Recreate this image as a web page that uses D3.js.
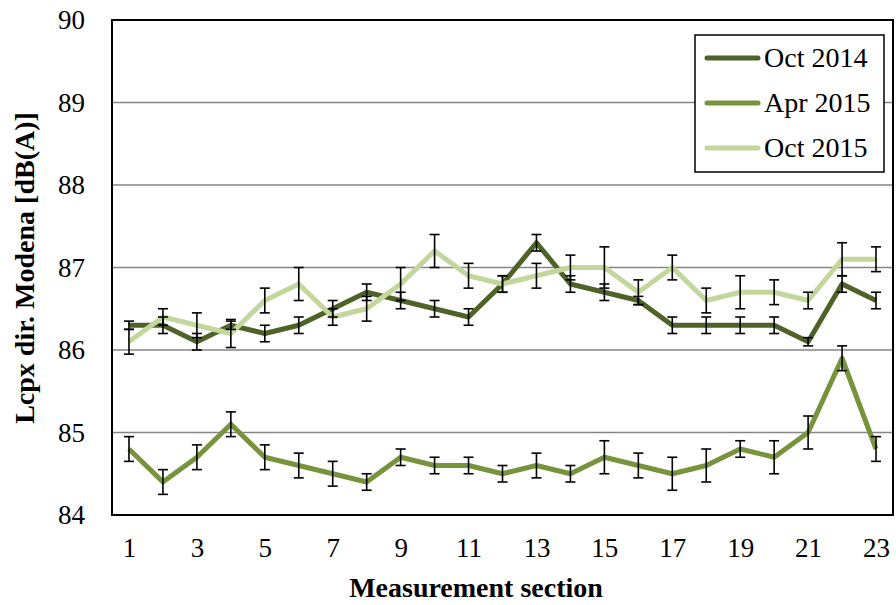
<!DOCTYPE html>
<html>
<head>
<meta charset="utf-8">
<script src="https://cdn.jsdelivr.net/npm/d3@7"></script>
<style>
	body { margin: 0; background: #fff; }
	svg text { font-family: "Liberation Serif", "Times New Roman", serif; }
</style>
</head>
<body>
<svg id="chart" width="896" height="605"></svg>
<script>
const sections = d3.range(1, 24);
const seriesNames = ["Oct 2014", "Apr 2015", "Oct 2015"];
const colors = ["#4F6228", "#77933C", "#C3D69B"];

const oct2014 = [86.3, 86.3, 86.1, 86.3, 86.2, 86.3, 86.5, 86.7, 86.6, 86.5, 86.4, 86.8, 87.3, 86.8, 86.7, 86.6, 86.3, 86.3, 86.3, 86.3, 86.1, 86.8, 86.6];
const oct2014Err = [0.05, 0.1, 0.1, 0.05, 0.1, 0.1, 0.1, 0.1, 0.1, 0.1, 0.1, 0.1, 0.1, 0.1, 0.1, 0.05, 0.1, 0.1, 0.1, 0.1, 0.05, 0.1, 0.1];
const apr2015 = [84.8, 84.4, 84.7, 85.1, 84.7, 84.6, 84.5, 84.4, 84.7, 84.6, 84.6, 84.5, 84.6, 84.5, 84.7, 84.6, 84.5, 84.6, 84.8, 84.7, 85.0, 85.9, 84.8];
const apr2015Err = [0.15, 0.15, 0.15, 0.15, 0.15, 0.15, 0.15, 0.1, 0.1, 0.1, 0.1, 0.1, 0.15, 0.1, 0.2, 0.15, 0.2, 0.2, 0.1, 0.2, 0.2, 0.15, 0.15];
const oct2015 = [86.1, 86.4, 86.3, 86.2, 86.6, 86.8, 86.4, 86.5, 86.8, 87.2, 86.9, 86.8, 86.9, 87.0, 87.0, 86.7, 87.0, 86.6, 86.7, 86.7, 86.6, 87.1, 87.1];
const oct2015Err = [0.15, 0.1, 0.15, 0.17, 0.15, 0.2, 0.1, 0.15, 0.2, 0.2, 0.15, 0.1, 0.15, 0.15, 0.25, 0.15, 0.15, 0.15, 0.2, 0.15, 0.1, 0.2, 0.15];
const yTicks = [84, 85, 86, 87, 88, 89, 90];
const xTickLabels = [1, 3, 5, 7, 9, 11, 13, 15, 17, 19, 21, 23];

const series = [
	{name: seriesNames[0], values: oct2014, err: oct2014Err, color: colors[0]},
	{name: seriesNames[1], values: apr2015, err: apr2015Err, color: colors[1]},
	{name: seriesNames[2], values: oct2015, err: oct2015Err, color: colors[2]}
];

const svg = d3.select("#chart");
const plotL = 112, plotR = 893, plotT = 20, plotB = 515;

const x = d3.scalePoint().domain(sections).range([plotL, plotR]).padding(0.5);
const y = d3.scaleLinear().domain([84, 90]).range([plotB, plotT]);

// gridlines
svg.append("g")
	.selectAll("line")
	.data(yTicks.slice(1, -1))
	.join("line")
	.attr("x1", plotL).attr("x2", plotR)
	.attr("y1", d => y(d)).attr("y2", d => y(d))
	.attr("stroke", "#868686").attr("stroke-width", 1.5);

// y axis labels
const yAxis = d3.axisLeft(y).tickValues(yTicks).tickFormat(d3.format("d")).tickSize(0).tickPadding(27);
svg.append("g")
	.attr("transform", `translate(${plotL},0)`)
	.call(yAxis)
	.call(g => g.select(".domain").remove())
	.selectAll("text")
	.style("font-family", "'Liberation Serif', serif")
	.style("font-size", "27px").attr("fill", "#000");

// x axis labels
const xAxis = d3.axisBottom(x).tickValues(xTickLabels).tickSize(0).tickPadding(23);
svg.append("g")
	.attr("transform", `translate(0,${plotB})`)
	.call(xAxis)
	.call(g => g.select(".domain").remove())
	.selectAll("text")
	.style("font-family", "'Liberation Serif', serif")
	.style("font-size", "27px").attr("fill", "#000");

// lines
const line = d3.line()
	.x((d, i) => x(sections[i]))
	.y(d => y(d));

series.forEach(s => {
	svg.append("path")
		.datum(s.values)
		.attr("d", line)
		.attr("fill", "none")
		.attr("stroke", s.color)
		.attr("stroke-width", 5)
		.attr("stroke-linejoin", "round");
});

// error bars
const cap = 5;
series.forEach(s => {
	const g = svg.append("g").attr("stroke", "#000").attr("stroke-width", 1.6);
	s.values.forEach((v, i) => {
		const cx = x(sections[i]);
		const hi = y(v + s.err[i]), lo = y(v - s.err[i]);
		g.append("line").attr("x1", cx).attr("x2", cx).attr("y1", hi).attr("y2", lo);
		g.append("line").attr("x1", cx - cap).attr("x2", cx + cap).attr("y1", hi).attr("y2", hi);
		g.append("line").attr("x1", cx - cap).attr("x2", cx + cap).attr("y1", lo).attr("y2", lo);
	});
});

// plot border
svg.append("rect")
	.attr("x", plotL).attr("y", plotT)
	.attr("width", plotR - plotL).attr("height", plotB - plotT)
	.attr("fill", "none").attr("stroke", "#000").attr("stroke-width", 2);

// legend
const legend = svg.append("g");
legend.append("rect")
	.attr("x", 695).attr("y", 35).attr("width", 189).attr("height", 137)
	.attr("fill", "#fff").attr("stroke", "#000").attr("stroke-width", 1.5);
series.forEach((s, i) => {
	const ly = 58 + i * 45;
	legend.append("line")
		.attr("x1", 707).attr("x2", 758).attr("y1", ly).attr("y2", ly)
		.attr("stroke", s.color).attr("stroke-width", 5).attr("stroke-linecap", "round");
	legend.append("text")
		.attr("x", 764).attr("y", ly + 9)
		.style("font-size", "28px")
		.text(s.name);
});

// axis titles
svg.append("text")
	.attr("x", 476).attr("y", 597)
	.attr("text-anchor", "middle")
	.style("font-size", "28px").attr("font-weight", "bold")
	.text("Measurement section");

svg.append("text")
	.attr("transform", "translate(34,268) rotate(-90)")
	.attr("text-anchor", "middle")
	.style("font-size", "28px").attr("font-weight", "bold")
	.text("Lcpx dir. Modena [dB(A)]");
</script>
</body>
</html>
